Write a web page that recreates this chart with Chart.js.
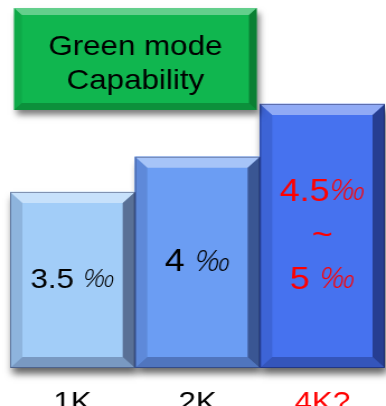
<!DOCTYPE html>
<html>
<head>
<meta charset="utf-8">
<script src="https://cdn.jsdelivr.net/npm/chart.js@4/dist/chart.umd.min.js"></script>
<style>
  html, body { margin: 0; padding: 0; background: #fff; overflow: hidden; }
  #wrap { width: 345px; height: 406px; transform: scaleX(1.1188); transform-origin: 0 0; }
  canvas { display: block; }
</style>
</head>
<body>
<div id="wrap"><canvas id="chart" width="345" height="406"></canvas></div>
<script>
// Resolution categories and per-mille values (4K is the middle of its 4.5‰–5‰ range)
const categories = ['1K', '2K', '4K?'];
const values = [3.5, 4, 4.75];
const barLabels = [['3.5 ‰'], ['4 ‰'], ['4.5‰', '~', '5 ‰']];

// Styling
const barColors = ['#A2CDF8', '#6B9DF3', '#4672EF'];
const textColors = ['#000000', '#000000', '#FF0000'];
const labelSizes = [28, 32, 32];
const titleLines = ['Green mode', 'Capability'];
const FONT = "'Liberation Sans', Arial, sans-serif";
const MILLE_FONT = "'Open Sans', 'DejaVu Sans', sans-serif";
const AXIS_FLOOR = 1;

function bevel(ctx, L, T, R, B, b, shades) {
  const quads = [
    [[L, T], [R, T], [R - b, T + b], [L + b, T + b]],
    [[R, T], [R, B], [R - b, B - b], [R - b, T + b]],
    [[L, B], [R, B], [R - b, B - b], [L + b, B - b]],
    [[L, T], [L + b, T + b], [L + b, B - b], [L, B]]
  ];
  quads.forEach((q, i) => {
    ctx.beginPath();
    ctx.moveTo(q[0][0], q[0][1]);
    for (let k = 1; k < 4; k++) ctx.lineTo(q[k][0], q[k][1]);
    ctx.closePath();
    ctx.fillStyle = shades[i];
    ctx.fill();
  });
}

// Draw a line of text where the per-mille sign is set in a light italic face
function drawMixed(ctx, text, cx, cy, size, color) {
  const parts = text.split(/(‰)/).filter(s => s.length);
  const fonts = parts.map(p => p === '‰' ? `italic 300 ${Math.round(size * 0.92)}px ${MILLE_FONT}` : `${size}px ${FONT}`);
  let total = 0;
  const widths = parts.map((p, i) => { ctx.font = fonts[i]; const w = ctx.measureText(p).width; total += w; return w; });
  let x = cx - total / 2;
  ctx.fillStyle = color;
  ctx.textBaseline = 'middle';
  ctx.textAlign = 'left';
  parts.forEach((p, i) => { ctx.font = fonts[i]; ctx.fillText(p, x, cy); x += widths[i]; });
}

const bevelPlugin = {
  id: 'bevelBars',
  beforeDatasetsDraw(chart) {
    const ctx = chart.ctx;
    const meta = chart.getDatasetMeta(0);
    ctx.save();
    ctx.shadowColor = 'rgba(0,0,0,0.6)';
    ctx.shadowBlur = 7;
    ctx.shadowOffsetX = 2;
    ctx.shadowOffsetY = 6;
    meta.data.forEach((bar, i) => {
      const p = bar.getProps(['x', 'y', 'base', 'width'], true);
      ctx.fillStyle = barColors[i];
      ctx.fillRect(p.x - p.width / 2, p.y, p.width, p.base - p.y);
    });
    ctx.restore();
  },
  afterDatasetsDraw(chart) {
    const ctx = chart.ctx;
    const meta = chart.getDatasetMeta(0);
    ctx.save();
    meta.data.forEach((bar, i) => {
      const p = bar.getProps(['x', 'y', 'base', 'width'], true);
      const L = p.x - p.width / 2, R = p.x + p.width / 2, T = p.y, B = p.base;
      bevel(ctx, L, T, R, B, 11, [
        'rgba(255,255,255,0.4)',
        'rgba(0,0,30,0.45)',
        'rgba(0,0,30,0.25)',
        'rgba(0,0,30,0.12)'
      ]);
      ctx.strokeStyle = 'rgba(0,0,40,0.35)';
      ctx.lineWidth = 1;
      ctx.strokeRect(L + 0.5, T + 0.5, p.width - 1, B - T - 1);

      const lines = barLabels[i];
      const gap = 44;
      const cy = (T + B) / 2;
      lines.forEach((ln, k) => {
        const y = cy + (k - (lines.length - 1) / 2) * gap;
        drawMixed(ctx, ln, p.x, y, labelSizes[i], textColors[i]);
      });
    });

    // Title badge
    const L = 12.5, T = 8, R = 229.5, B = 110;
    ctx.save();
    ctx.shadowColor = 'rgba(0,0,0,0.5)';
    ctx.shadowBlur = 6;
    ctx.shadowOffsetX = 2;
    ctx.shadowOffsetY = 5;
    ctx.fillStyle = '#10B64F';
    ctx.fillRect(L, T, R - L, B - T);
    ctx.restore();
    bevel(ctx, L, T, R, B, 7, [
      'rgba(255,255,255,0.35)',
      'rgba(0,30,0,0.35)',
      'rgba(0,30,0,0.25)',
      'rgba(0,30,0,0.08)'
    ]);
    ctx.fillStyle = '#000';
    ctx.font = `28px ${FONT}`;
    ctx.textAlign = 'center';
    ctx.textBaseline = 'middle';
    const cx = (L + R) / 2;
    ctx.fillText(titleLines[0], cx, 47);
    ctx.fillText(titleLines[1], cx, 81);
    ctx.restore();
  }
};

new Chart(document.getElementById('chart'), {
  type: 'bar',
  data: {
    labels: categories,
    datasets: [{
      data: values,
      base: AXIS_FLOOR,
      backgroundColor: barColors,
      borderWidth: 0,
      barPercentage: 1,
      categoryPercentage: 1
    }]
  },
  options: {
    responsive: false,
    animation: false,
    devicePixelRatio: 1,
    layout: { padding: { left: 9, right: 1, top: 16, bottom: 0 } },
    plugins: { legend: { display: false }, tooltip: { enabled: false } },
    scales: {
      x: {
        grid: { display: false, drawTicks: false },
        border: { display: false },
        ticks: {
          padding: 21,
          color: ctx => textColors[ctx.index],
          font: { family: FONT, size: 28, lineHeight: 1 }
        },
        afterFit: scale => { scale.height = 38; }
      },
      y: { display: false, min: AXIS_FLOOR, max: 6 }
    }
  },
  plugins: [bevelPlugin]
});
</script>
</body>
</html>
